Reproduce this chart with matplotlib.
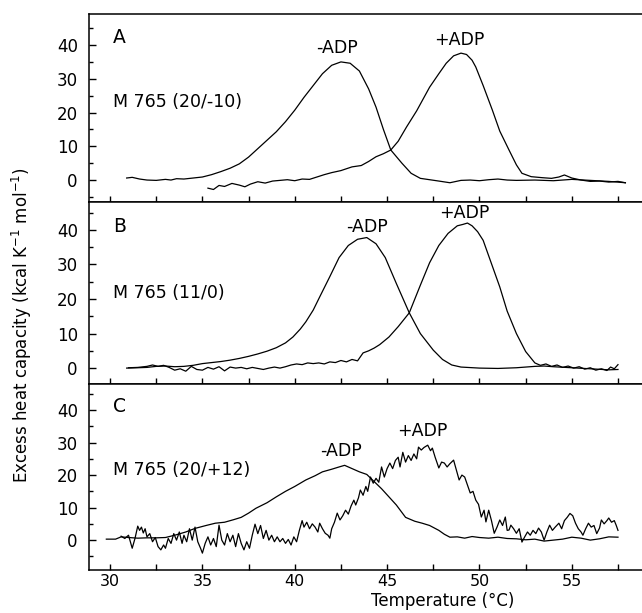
import matplotlib
matplotlib.use("Agg")
import matplotlib.pyplot as plt
from matplotlib.ticker import MultipleLocator

plt.rcParams['font.family'] = ['DejaVu Sans']
plt.rcParams['mathtext.default'] = 'regular'

# ---- panel A : M 765 (20/-10) ----
a_minus_t = [30.9, 31.2, 31.6, 32.0, 32.5, 33.0, 33.3, 33.6, 34.0, 34.5, 35.0, 35.5, 36.0,
             36.5, 37.0, 37.5, 38.0, 38.5, 39.0, 39.5, 40.0, 40.5, 41.0, 41.5, 42.0, 42.5,
             43.0, 43.5, 44.0, 44.4, 44.8, 45.2, 45.8, 46.3, 46.8, 47.3, 47.8, 48.4, 49.0,
             49.5, 50.0, 50.5, 51.0, 51.5, 52.0, 53.0, 54.0, 55.0, 56.0, 57.0, 57.9]
a_minus_cp = [0.6, 0.8, 0.3, 0.0, -0.1, 0.2, 0.0, 0.4, 0.3, 0.6, 0.9, 1.6, 2.5,
              3.5, 4.8, 6.8, 9.3, 11.8, 14.3, 17.3, 20.7, 24.5, 28.0, 31.5, 34.0, 35.0,
              34.6, 32.3, 27.0, 21.6, 15.0, 8.9, 5.0, 2.0, 0.5, 0.1, -0.3, -0.8, -0.1,
              0.0, -0.2, 0.1, 0.3, 0.0, -0.1, 0.0, -0.2, 0.2, -0.1, -0.4, -0.8]
a_plus_t = [35.3, 35.6, 35.9, 36.2, 36.6, 37.0, 37.3, 37.6, 38.0, 38.4, 38.8, 39.2, 39.6,
            40.0, 40.4, 40.8, 41.2, 41.6, 42.0, 42.5, 43.1, 43.6, 44.0, 44.4, 44.8, 45.2,
            45.6, 46.05, 46.6, 47.0, 47.3, 47.8, 48.2, 48.6, 49.0, 49.3, 49.6, 49.8, 50.2,
            50.7, 51.1, 51.6, 52.0, 52.3, 52.8, 53.4, 53.9, 54.3, 54.6, 55.0, 55.5, 56.0,
            56.5, 57.0, 57.5, 57.9]
a_plus_cp = [-2.4, -2.8, -1.6, -1.9, -1.0, -1.5, -2.0, -1.2, -0.5, -0.9, -0.3, -0.1, 0.1,
             -0.2, 0.3, 0.2, 0.9, 1.6, 2.2, 2.8, 3.9, 4.3, 5.5, 6.9, 7.8, 8.9,
             11.5, 15.7, 20.5, 24.5, 27.5, 31.5, 34.6, 36.8, 37.6, 37.2, 35.5, 33.5, 28.0,
             20.7, 14.5, 8.9, 4.5, 2.0, 1.0, 0.7, 0.5, 0.9, 1.5, 0.6, 0.0, -0.4,
             -0.3, -0.6, -0.4, -0.8]

# ---- panel B : M 765 (11/0) ----
b_minus_t = [30.9, 31.5, 32.0, 32.5, 33.0, 33.5, 34.0, 34.5, 35.0, 35.5, 36.0, 36.5, 37.0,
             37.5, 38.0, 38.5, 39.0, 39.5, 39.9, 40.3, 40.6, 41.0, 41.35, 41.9, 42.4, 42.9,
             43.4, 43.9, 44.4, 44.9, 45.5, 46.2, 46.8, 47.5, 48.0, 48.5, 49.0, 50.0, 51.0,
             52.0, 53.0, 53.5, 54.0, 55.0, 56.0, 57.0, 57.5]
b_minus_cp = [0.0, 0.1, 0.2, 0.5, 0.6, 0.4, 0.5, 0.8, 1.3, 1.6, 1.9, 2.3, 2.8,
              3.4, 4.1, 4.9, 5.9, 7.3, 9.0, 11.3, 13.4, 16.8, 20.6, 26.5, 32.0, 35.5,
              37.3, 37.8, 36.0, 32.0, 24.5, 16.0, 10.0, 5.2, 2.5, 0.9, 0.3, 0.0, -0.1,
              0.1, 0.5, 0.6, 0.4, 0.1, -0.2, -0.5, -0.4]
b_plus_t = [31.0, 31.5, 32.0, 32.3, 32.6, 32.9, 33.2, 33.5, 33.8, 34.1, 34.4, 34.7, 35.0,
            35.3, 35.6, 35.9, 36.2, 36.5, 36.8, 37.1, 37.4, 37.7, 38.0, 38.3, 38.6, 38.9,
            39.2, 39.5, 39.8, 40.1, 40.4, 40.7, 41.0, 41.3, 41.6, 41.9, 42.2, 42.5, 42.8,
            43.1, 43.4, 43.7, 44.0, 44.3, 44.6, 45.1, 45.6, 46.2, 46.8, 47.3, 47.8, 48.3,
            48.8, 49.1, 49.35, 49.6, 49.9, 50.2, 50.6, 51.1, 51.5, 52.0, 52.5, 53.0, 53.3,
            53.6, 53.9, 54.2, 54.5, 54.8, 55.1, 55.4, 55.7, 56.0, 56.3, 56.6, 56.9, 57.1,
            57.3, 57.5]
b_plus_cp = [0.1, 0.2, 0.5, 0.9, 0.5, 0.8, 0.2, -0.6, -0.2, -0.9, 0.5, -0.4, -0.6,
             0.2, -0.3, 0.4, -0.8, 0.3, 0.0, 0.2, -0.2, 0.2, -0.1, -0.4, 0.0, 0.3,
             0.0, 0.4, 0.9, 1.2, 1.0, 1.5, 1.3, 1.5, 1.2, 1.8, 1.6, 2.2, 1.8,
             2.5, 2.1, 4.4, 5.0, 5.8, 6.8, 9.0, 12.0, 16.0, 24.0, 30.5, 35.5, 39.0,
             41.2, 41.6, 42.0, 41.2, 39.5, 37.0, 31.0, 23.5, 16.5, 10.0, 4.8, 1.5, 0.8,
             1.2, 0.5, 0.9, 0.2, 0.6, 0.0, 0.4, -0.3, 0.1, -0.6, -0.2, -0.7, 0.3,
             -0.2, 1.0]

# ---- panel C : M 765 (20/+12) ----
c_minus_t = [29.8, 30.3, 30.6, 31.0, 31.5, 32.0, 32.5, 33.0, 33.5, 34.1, 34.6, 35.2, 35.7,
             36.2, 36.7, 37.1, 37.5, 37.9, 38.5, 39.0, 39.5, 40.0, 40.6, 41.1, 41.5, 42.0,
             42.4, 42.7, 43.1, 43.5, 43.9, 44.3, 44.7, 45.1, 45.5, 46.0, 46.5, 46.9, 47.3,
             47.8, 48.1, 48.4, 48.8, 49.2, 49.6, 50.0, 50.5, 51.0, 51.5, 52.0, 52.5, 53.0,
             53.5, 54.0, 54.5, 55.0, 55.5, 56.0, 56.5, 57.0, 57.5]
c_minus_cp = [0.3, 0.3, 1.0, 0.8, 0.6, 0.7, 0.7, 0.8, 1.5, 2.5, 3.6, 4.5, 5.2,
              5.5, 6.3, 7.0, 8.3, 9.8, 11.5, 13.3, 15.0, 16.5, 18.5, 19.8, 21.0, 21.8,
              22.5, 23.0, 22.0, 21.0, 20.2, 18.0, 15.8, 13.3, 10.8, 7.0, 5.8, 5.2, 4.5,
              3.0, 1.8, 0.9, 1.0, 0.6, 1.1, 0.8, 0.6, 0.9, 0.5, 0.4, 0.1, 0.3,
              -0.3, 0.0, 0.3, 0.9, 0.6, 0.0, 0.4, 1.0, 0.9]
c_plus_t = [30.6, 30.8, 31.0, 31.1, 31.2, 31.35, 31.5, 31.6, 31.7, 31.8, 31.9, 32.0, 32.15,
            32.3, 32.45, 32.6, 32.75, 32.9, 33.0, 33.15, 33.3, 33.45, 33.6, 33.75, 33.9, 34.0,
            34.15, 34.3, 34.45, 34.6, 34.75, 34.9, 35.0, 35.15, 35.3, 35.45, 35.6, 35.75, 35.9,
            36.05, 36.2, 36.35, 36.5, 36.65, 36.8, 36.95, 37.1, 37.25, 37.4, 37.55, 37.7, 37.85,
            38.0, 38.15, 38.3, 38.45, 38.6, 38.75, 38.9, 39.05, 39.2, 39.35, 39.5, 39.65, 39.8,
            39.95, 40.1, 40.25, 40.4, 40.5, 40.65, 40.8, 40.95, 41.1, 41.25, 41.35, 41.5, 41.65,
            41.8, 41.9, 42.0, 42.15, 42.3, 42.45, 42.6, 42.75, 42.9, 43.05, 43.2, 43.3, 43.45,
            43.55, 43.7, 43.85, 43.95, 44.1, 44.25, 44.4, 44.55, 44.7, 44.85, 45.0, 45.15, 45.3,
            45.45, 45.6, 45.7, 45.85, 46.0, 46.15, 46.3, 46.45, 46.6, 46.7, 46.85, 47.0, 47.2,
            47.35, 47.45, 47.6, 47.8, 47.95, 48.1, 48.25, 48.4, 48.6, 48.75, 48.9, 49.05, 49.2,
            49.35, 49.5, 49.65, 49.8, 49.95, 50.1, 50.25, 50.35, 50.5, 50.65, 50.8, 50.95, 51.1,
            51.25, 51.4, 51.5, 51.6, 51.7, 51.85, 52.0, 52.15, 52.3, 52.45, 52.6, 52.75, 52.9,
            53.05, 53.2, 53.35, 53.5, 53.65, 53.8, 53.95, 54.1, 54.3, 54.45, 54.6, 54.75, 54.9,
            55.05, 55.2, 55.35, 55.5, 55.6, 55.75, 55.9, 56.05, 56.2, 56.35, 56.5, 56.6, 56.75,
            56.9, 57.0, 57.15, 57.3, 57.4, 57.5]
c_plus_cp = [1.2, 0.5, 1.5, -0.5, -2.5, 0.5, 4.3, 3.0, 4.0, 2.2, 3.5, 1.0, 2.0,
             -0.5, 0.8, -2.0, -3.0, -1.5, -2.5, 0.5, -1.0, 2.0, 0.0, 2.5, -1.0, 1.5,
             -0.5, 3.5, 0.0, 4.0, -0.5, -2.5, -4.0, -1.0, 1.0, -1.5, 0.5, -2.0, 4.6,
             0.0, -1.5, 2.0, -0.5, 1.5, -2.0, 2.0, -1.0, -3.0, -0.5, -2.5, 1.5, 4.9,
             2.0, 4.5, 0.5, 3.0, 0.0, 1.5, -0.5, 1.0, -0.5, 0.5, -1.0, 0.2, -1.5,
             1.0, -0.5, 3.0, 6.0, 4.0, 5.5, 3.5, 5.0, 4.0, 2.5, 5.2, 3.5, 2.1,
             1.5, 0.6, 3.5, 5.5, 8.3, 6.2, 7.5, 9.2, 8.0, 10.5, 12.3, 10.8, 13.0,
             15.4, 13.8, 16.5, 15.0, 19.4, 17.5, 19.0, 17.8, 22.5, 19.4, 22.0, 23.7, 22.0,
             24.5, 25.5, 22.5, 27.0, 24.0, 26.0, 24.5, 26.5, 25.0, 28.6, 27.7, 28.5, 29.2,
             27.5, 28.3, 25.5, 22.2, 24.0, 23.7, 22.5, 23.5, 24.6, 21.5, 18.5, 20.0, 19.4,
             17.0, 14.5, 15.0, 12.3, 11.0, 7.1, 9.2, 5.6, 9.2, 6.0, 2.1, 4.0, 6.2,
             4.5, 7.1, 3.0, 3.1, 4.6, 3.5, 2.1, 3.5, -0.6, 1.0, 2.5, 1.5, 3.0,
             2.0, 3.7, 2.5, 0.0, 2.5, 4.6, 3.0, 4.0, 5.2, 3.5, 6.0, 7.0, 8.2,
             7.5, 5.2, 3.5, 2.5, 1.5, 3.5, 5.2, 4.0, 4.5, 2.0, 3.7, 6.2, 5.0,
             6.0, 6.8, 5.5, 6.0, 4.6, 3.0]

panels = [
    dict(letter="A", name="M 765 (20/-10)", ylim=(-6.5, 49.2), rect=[0.1386, 0.6705, 0.8614, 0.3067],
         minus=(a_minus_t, a_minus_cp), plus=(a_plus_t, a_plus_cp),
         minus_lbl=(42.3, 39.1), plus_lbl=(48.9, 41.5), ly=0.926, ny=0.532),
    dict(letter="B", name="M 765 (11/0)", ylim=(-4.6, 48.1), rect=[0.1386, 0.3736, 0.8614, 0.2969],
         minus=(b_minus_t, b_minus_cp), plus=(b_plus_t, b_plus_cp),
         minus_lbl=(43.9, 40.9), plus_lbl=(49.2, 45.0), ly=0.918, ny=0.50),
    dict(letter="C", name="M 765 (20/+12)", ylim=(-9.2, 48.0), rect=[0.1386, 0.0701, 0.8614, 0.3034],
         minus=(c_minus_t, c_minus_cp), plus=(c_plus_t, c_plus_cp),
         minus_lbl=(42.5, 27.4), plus_lbl=(46.9, 33.5), ly=0.93, ny=0.538),
]

fig = plt.figure(figsize=(6.42, 6.13), dpi=100)

for i, p in enumerate(panels):
    ax = fig.add_axes(p["rect"])
    ax.plot(*p["minus"], color="black", lw=0.9)
    ax.plot(*p["plus"], color="black", lw=0.9)
    ax.set_xlim(28.86, 58.8)
    ax.set_ylim(*p["ylim"])
    ax.spines["right"].set_visible(False)
    for s in ["left", "top", "bottom"]:
        ax.spines[s].set_linewidth(1.1)
    ax.xaxis.set_major_locator(MultipleLocator(5))
    ax.xaxis.set_minor_locator(MultipleLocator(2.5))
    ax.yaxis.set_minor_locator(MultipleLocator(5))
    ax.set_yticks([0, 10, 20, 30, 40])
    ax.tick_params(axis="y", which="major", direction="in", length=5, width=1, pad=8, labelsize=12)
    ax.tick_params(axis="y", which="minor", direction="in", length=3, width=1)
    ax.tick_params(axis="x", which="both", direction="in", length=4, width=1, pad=3, labelsize=11.5)
    if i < 2:
        ax.tick_params(axis="x", labelbottom=False)
    ax.text(0.043, p["ly"], p["letter"], transform=ax.transAxes, fontsize=13.5, va="top", ha="left")
    ax.text(0.043, p["ny"], p["name"], transform=ax.transAxes, fontsize=12.5, va="center", ha="left")
    ax.text(*p["minus_lbl"], "-ADP", fontsize=12.5, ha="center", va="center")
    ax.text(*p["plus_lbl"], "+ADP", fontsize=12.5, ha="center", va="center")

fig.text(0.034, 0.47, "Excess heat capacity (kcal K$^{-1}$ mol$^{-1}$)", rotation=90,
         fontsize=12, ha="center", va="center")
fig.text(0.69, 0.02, "Temperature (°C)", fontsize=12, ha="center", va="center")

fig.savefig("out.png", dpi=100)
